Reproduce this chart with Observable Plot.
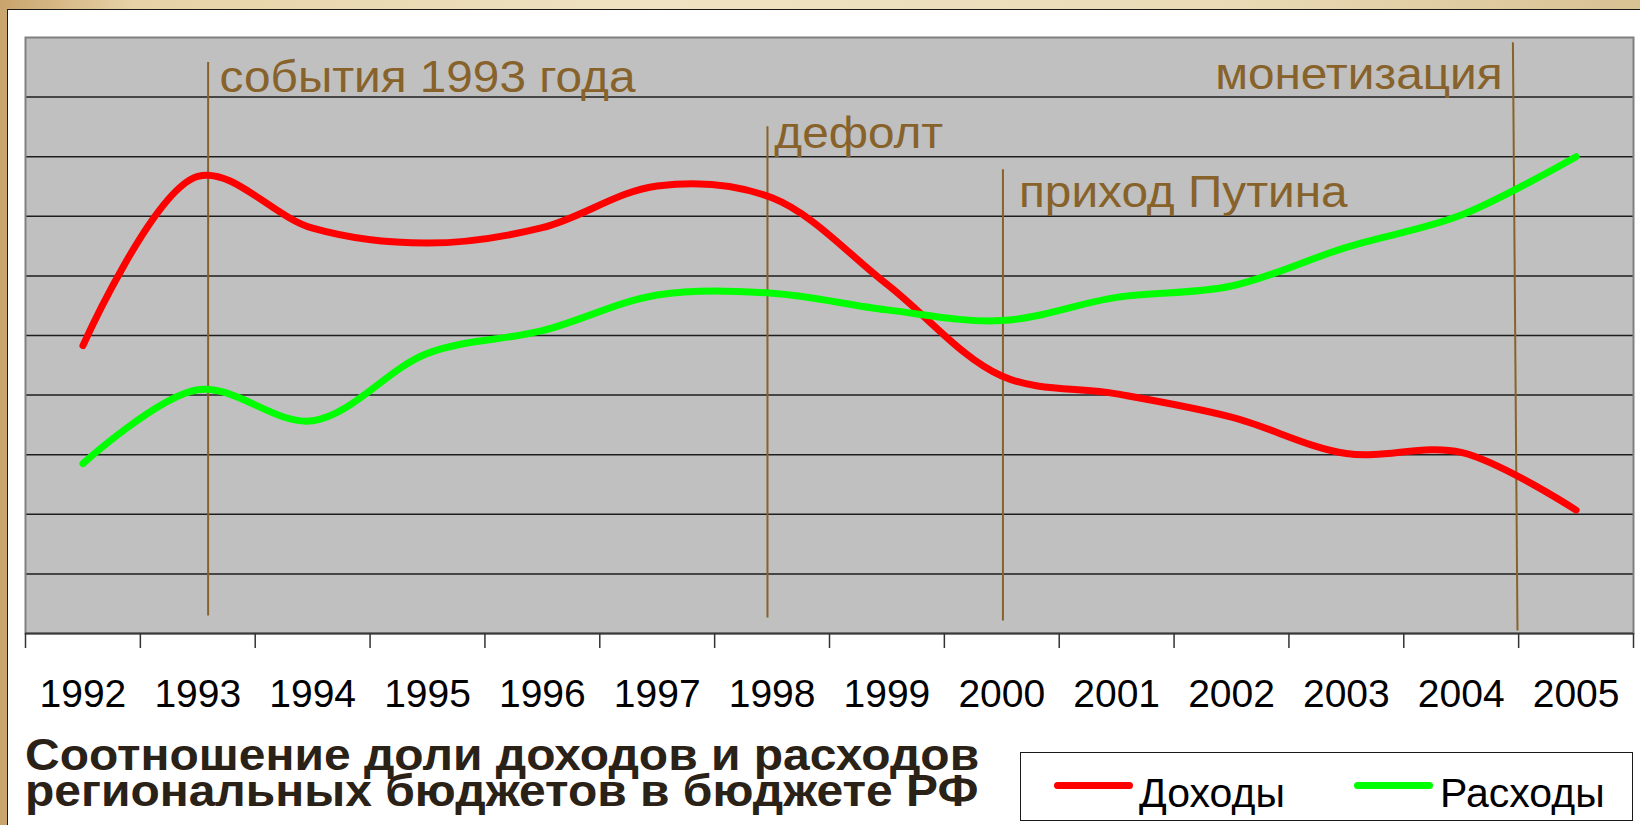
<!DOCTYPE html>
<html>
<head>
<meta charset="utf-8">
<script src="https://cdn.jsdelivr.net/npm/d3@7"></script>
<script src="https://cdn.jsdelivr.net/npm/@observablehq/plot@0.6"></script>
<style>
  html, body { margin: 0; padding: 0; }
  body {
    width: 1640px; height: 825px; overflow: hidden; position: relative;
    background: linear-gradient(90deg, #c9a46c 0%, #e6d2a6 8%, #efe3c3 40%, #eadbb6 75%, #d8c193 100%);
    font-family: "Liberation Sans", Arial, sans-serif;
  }
  #panel {
    position: absolute; left: 7px; top: 9px; width: 1650px; height: 840px;
    background: #ffffff; border: 1.5px solid #1a1a1a; box-sizing: border-box;
  }
  #chart { position: absolute; left: 0; top: 0; }
  #title {
    position: absolute; left: 25px; top: 737px;
    font-weight: bold; font-size: 44px; line-height: 36px; color: #2a2117;
    white-space: nowrap; transform: scaleX(1.09); transform-origin: 0 0;
  }
  #legend {
    position: absolute; left: 1020px; top: 752px; width: 613px; height: 69px;
    box-sizing: border-box; border: 1.5px solid #1a1a1a; background: #fff;
  }
  .sw { position: absolute; height: 7px; border-radius: 4px; }
  .lt { position: absolute; font-size: 41px; line-height: 41px; color: #000; white-space: nowrap; }
</style>
</head>
<body>
<div id="panel"></div>
<div id="chart"></div>
<div id="title"></div>
<div id="legend"></div>
<script>
// ---- data ----
const years = [1992, 1993, 1994, 1995, 1996, 1997, 1998, 1999, 2000, 2001, 2002, 2003, 2004, 2005];
const incomes  = [4.83, 7.67, 6.80, 6.55, 6.81, 7.51, 7.31, 5.86, 4.32, 4.02, 3.63, 3.02, 3.04, 2.07];
const expenses = [2.85, 4.09, 3.57, 4.70, 5.08, 5.68, 5.71, 5.43, 5.25, 5.64, 5.83, 6.48, 7.02, 8.00];
const seriesNames = ["Доходы", "Расходы"];
const seriesColors = ["#ff0000", "#00ff00"];
const titleLines = ["Соотношение доли доходов и расходов", "региональных бюджетов в бюджете РФ"];

const eventLabels = ["события 1993 года", "дефолт", "приход Путина", "монетизация"];
const eventXTop    = [1993.09, 1997.96, 2000.01, 2004.45];
const eventXBottom = [1993.09, 1997.96, 2000.01, 2004.49];
const eventYTop    = [9.59, 8.51, 7.79, 9.92];
const eventYBottom = [0.30, 0.27, 0.22, 0.05];
const labelX = [1993.19, 1998.02, 2000.15, 2004.36];
const labelY = [9.09, 8.15, 7.16, 9.14];
const labelAnchor = ["start", "start", "start", "end"];

const gridValues = [1, 2, 3, 4, 5, 6, 7, 8, 9];
const boundaries = d3.range(1991.5, 2006, 1);

// ---- build tables ----
const incomeData = years.map((y, i) => ({year: y, value: incomes[i]}));
const expenseData = years.map((y, i) => ({year: y, value: expenses[i]}));
const events = eventLabels.map((l, i) => ({
  label: l, x1: eventXTop[i], x2: eventXBottom[i], y1: eventYTop[i], y2: eventYBottom[i],
  lx: labelX[i], ly: labelY[i], anchor: labelAnchor[i]
}));

const brown = "#87622a";

const chart = Plot.plot({
  width: 1640,
  height: 725,
  marginLeft: 25,
  marginRight: 7,
  marginTop: 37,
  marginBottom: 92,
  style: {background: "transparent", fontFamily: "'Liberation Sans', Arial, sans-serif", overflow: "visible"},
  x: {domain: [1991.5, 2005.5]},
  y: {domain: [0, 10], axis: null},
  marks: [
    Plot.frame({fill: "#c0c0c0", stroke: null}),
    Plot.ruleY(gridValues, {stroke: "#1e1e1e", strokeWidth: 1.5}),
    Plot.frame({stroke: "#808080", strokeWidth: 2}),
    Plot.ruleY([0], {stroke: "#3a3a3a", strokeWidth: 2}),
    Plot.axisX(boundaries, {tickSize: 15, tickFormat: () => "", stroke: "#333", strokeWidth: 1.5}),
    Plot.axisX(years, {tickSize: 0, tickPadding: 46, tickFormat: d => String(d), fontSize: 39, fill: "#000", label: null}),
    Plot.link(events, {x1: "x1", y1: "y1", x2: "x2", y2: "y2", stroke: brown, strokeWidth: 2}),
    Plot.text(events.filter(d => d.anchor === "start"), {x: "lx", y: "ly", text: "label", textAnchor: "start", lineAnchor: "bottom", fontSize: 44, fill: brown}),
    Plot.text(events.filter(d => d.anchor === "end"), {x: "lx", y: "ly", text: "label", textAnchor: "end", lineAnchor: "bottom", fontSize: 44, fill: brown}),
    Plot.line(incomeData, {x: "year", y: "value", stroke: seriesColors[0], strokeWidth: 7, curve: "catmull-rom", strokeLinecap: "round"}),
    Plot.line(expenseData, {x: "year", y: "value", stroke: seriesColors[1], strokeWidth: 7, curve: "catmull-rom", strokeLinecap: "round"})
  ]
});
document.getElementById("chart").appendChild(chart);

// stretch annotation labels horizontally (the original text is slightly widened)
d3.select(chart).selectAll("g[aria-label='text'] text").each(function() {
  const el = this;
  const t = el.getAttribute("transform") || "";
  const x = +el.getAttribute("x") || 0, y = +el.getAttribute("y") || 0;
  el.removeAttribute("x"); el.removeAttribute("y");
  el.setAttribute("transform", `${t} translate(${x},${y}) scale(1.085,1)`);
});

// title
const titleEl = document.getElementById("title");
titleLines.forEach((line, i) => {
  if (i > 0) titleEl.appendChild(document.createElement("br"));
  titleEl.appendChild(document.createTextNode(line));
});

// legend
const legend = document.getElementById("legend");
const swX = [33, 333];
const txX = [118, 419];
seriesNames.forEach((name, i) => {
  const sw = document.createElement("div");
  sw.className = "sw";
  sw.style.left = swX[i] + "px";
  sw.style.top = "29px";
  sw.style.width = "79px";
  sw.style.background = seriesColors[i];
  legend.appendChild(sw);
  const t = document.createElement("div");
  t.className = "lt";
  t.style.left = txX[i] + "px";
  t.style.top = "20px";
  t.textContent = name;
  legend.appendChild(t);
});
</script>
</body>
</html>
